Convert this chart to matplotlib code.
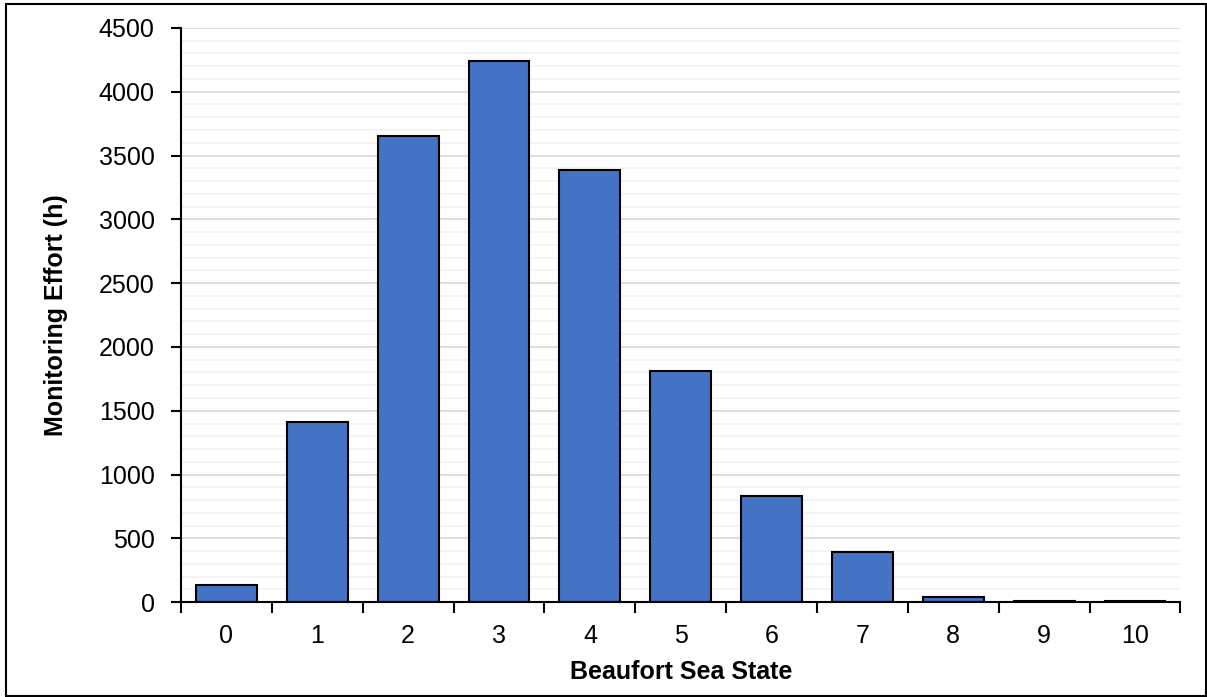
import matplotlib
matplotlib.use("Agg")
import matplotlib.pyplot as plt
from matplotlib.patches import Rectangle
from matplotlib.ticker import MultipleLocator

# ── Data ──────────────────────────────────────────────────────────────────────
sea_states = ["0", "1", "2", "3", "4", "5", "6", "7", "8", "9", "10"]
effort_h = [133, 1412, 3652, 4238, 3388, 1810, 831, 392, 42, 12, 6]

plt.rcParams["font.family"] = ["Liberation Sans", "DejaVu Sans"]

fig = plt.figure(figsize=(12.07, 6.97), dpi=100)
ax = fig.add_axes([0.150, 0.136, 0.828, 0.824])

x = list(range(len(sea_states)))
ax.bar(x, effort_h, width=0.67, color="#4472C4", edgecolor="black",
       linewidth=1.5, zorder=3)

# ── Axes ──────────────────────────────────────────────────────────────────────
ax.set_xlim(-0.5, len(sea_states) - 0.5)
ax.set_ylim(0, 4500)
ax.yaxis.set_major_locator(MultipleLocator(500))
ax.yaxis.set_minor_locator(MultipleLocator(100))
ax.grid(axis="y", which="major", color="#d9d9d9", linewidth=1.2, zorder=0)
ax.grid(axis="y", which="minor", color="#f2f2f2", linewidth=1.2, zorder=0)

ax.set_xticks(x)
ax.set_xticklabels(sea_states)
ax.set_xticks([i - 0.5 for i in range(len(sea_states) + 1)], minor=True)
ax.tick_params(axis="x", which="major", length=0, pad=16, labelsize=18)
ax.tick_params(axis="x", which="minor", length=8, width=1.5, direction="out")
ax.tick_params(axis="y", which="major", length=7, width=1.5, pad=12, labelsize=18)
ax.tick_params(axis="y", which="minor", length=0)

for s in ("top", "right"):
    ax.spines[s].set_visible(False)
for s in ("left", "bottom"):
    ax.spines[s].set_linewidth(1.5)
    ax.spines[s].set_zorder(4)

ax.set_xlabel("Beaufort Sea State", fontsize=18, fontweight="bold", labelpad=8)
ax.set_ylabel("Monitoring Effort (h)", fontsize=18, fontweight="bold", labelpad=22)

# outer frame
fig.patches.append(Rectangle((0.005, 0.002), 0.994, 0.992, transform=fig.transFigure,
                             fill=False, edgecolor="black", linewidth=1.5))

fig.savefig("out.png", dpi=100)
